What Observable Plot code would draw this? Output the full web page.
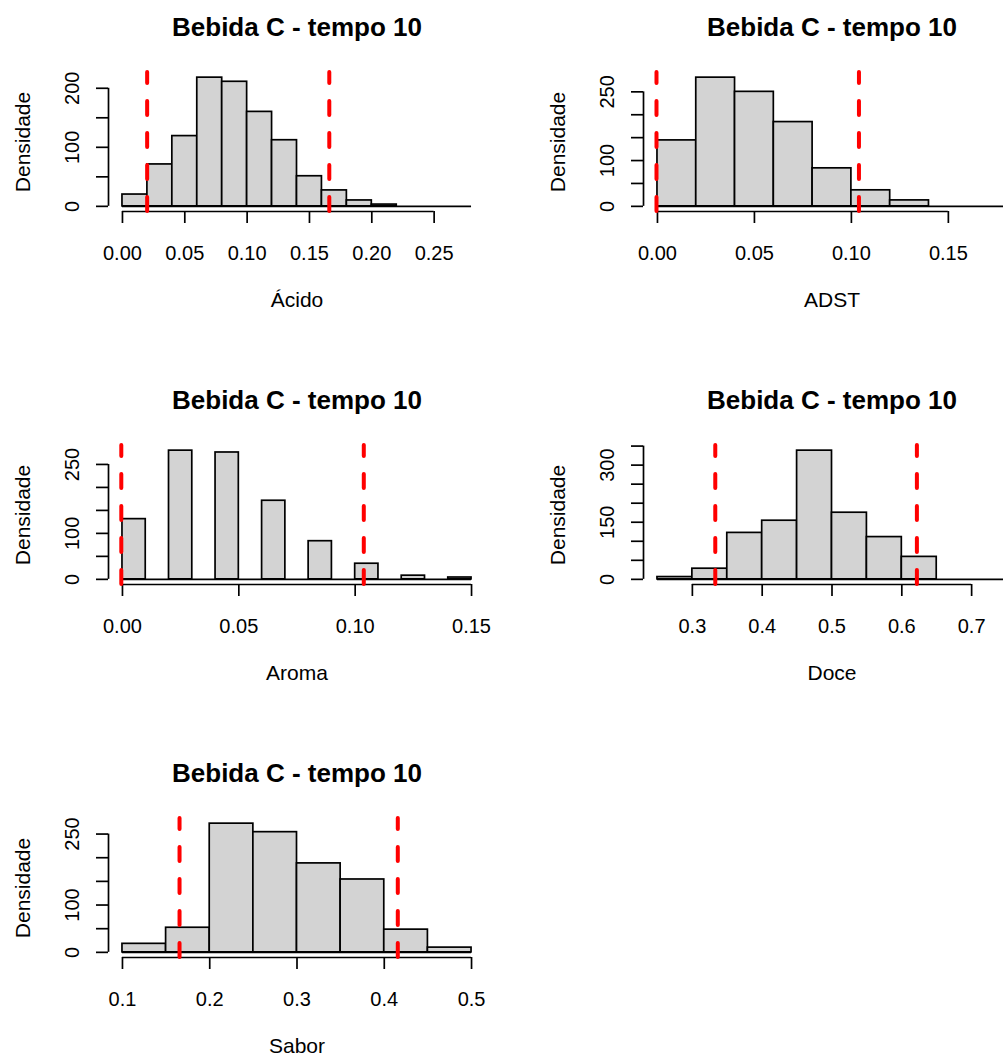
<!DOCTYPE html>
<html><head><meta charset="utf-8">
<script src="https://cdn.jsdelivr.net/npm/d3@7"></script>
<script src="https://cdn.jsdelivr.net/npm/@observablehq/plot@0.6"></script>
<style>
html,body{margin:0;padding:0;background:#fff;width:1003px;height:1061px;overflow:hidden;}
#root{position:relative;width:1003px;height:1061px;overflow:hidden;}
.panel{position:absolute;width:535px;height:373px;}
</style></head><body><div id="root"></div>
<script>
const title = "Bebida C - tempo 10";
const yLabel = "Densidade";
const varNames = ["Ácido", "ADST", "Aroma", "Doce", "Sabor"];

// bin edges
const acidoBreaks = [0, 0.02, 0.04, 0.06, 0.08, 0.10, 0.12, 0.14, 0.16, 0.18, 0.20, 0.22, 0.24, 0.26, 0.28];
const adstBreaks  = [0, 0.02, 0.04, 0.06, 0.08, 0.10, 0.12, 0.14, 0.16, 0.18];
const aromaBreaks = [0, 0.01, 0.02, 0.03, 0.04, 0.05, 0.06, 0.07, 0.08, 0.09, 0.10, 0.11, 0.12, 0.13, 0.14, 0.15];
const doceBreaks  = [0.25, 0.30, 0.35, 0.40, 0.45, 0.50, 0.55, 0.60, 0.65, 0.70, 0.75];
const saborBreaks = [0.10, 0.15, 0.20, 0.25, 0.30, 0.35, 0.40, 0.45, 0.50];

// densities per bin
const acidoDens = [20, 71, 119, 218, 211, 160, 112, 51, 27, 10, 3, 0, 0, 0];
const adstDens  = [144, 281, 250, 184, 83, 35, 13, 0, 0];
const aromaDens = [131, 0, 280, 0, 276, 0, 171, 0, 83, 0, 34, 0, 8, 0, 4];
const doceDens  = [6, 28, 122, 154, 338, 175, 111, 59, 0, 0];
const saborDens = [18, 52, 272, 254, 188, 154, 48, 10];

// red dashed limits
const acidoCuts = [0.0198, 0.1659];
const adstCuts  = [-0.0005, 0.1039];
const aromaCuts = [-0.0005, 0.1037];
const doceCuts  = [0.3328, 0.6216];
const saborCuts = [0.1654, 0.4155];

// x ticks
const acidoXTicks = [0, 0.05, 0.10, 0.15, 0.20, 0.25];
const adstXTicks  = [0, 0.05, 0.10, 0.15];
const aromaXTicks = [0, 0.05, 0.10, 0.15];
const doceXTicks  = [0.3, 0.4, 0.5, 0.6, 0.7];
const saborXTicks = [0.1, 0.2, 0.3, 0.4, 0.5];

// y ticks and shown labels
const acidoYTicks = [0, 50, 100, 150, 200];
const adstYTicks  = [0, 50, 100, 150, 200, 250];
const aromaYTicks = [0, 50, 100, 150, 200, 250];
const doceYTicks  = [0, 50, 100, 150, 200, 250, 300, 350];
const saborYTicks = [0, 50, 100, 150, 200, 250];
const acidoYLabels = [0, 100, 200];
const adstYLabels  = [0, 100, 250];
const aromaYLabels = [0, 100, 250];
const doceYLabels  = [0, 150, 300];
const saborYLabels = [0, 100, 250];

const panels = [
  {name: varNames[0], breaks: acidoBreaks, dens: acidoDens, cuts: acidoCuts, xt: acidoXTicks, yt: acidoYTicks, yl: acidoYLabels, fmt: ".2f"},
  {name: varNames[1], breaks: adstBreaks, dens: adstDens, cuts: adstCuts, xt: adstXTicks, yt: adstYTicks, yl: adstYLabels, fmt: ".2f"},
  {name: varNames[2], breaks: aromaBreaks, dens: aromaDens, cuts: aromaCuts, xt: aromaXTicks, yt: aromaYTicks, yl: aromaYLabels, fmt: ".2f"},
  {name: varNames[3], breaks: doceBreaks, dens: doceDens, cuts: doceCuts, xt: doceXTicks, yt: doceYTicks, yl: doceYLabels, fmt: ".1f"},
  {name: varNames[4], breaks: saborBreaks, dens: saborDens, cuts: saborCuts, xt: saborXTicks, yt: saborYTicks, yl: saborYLabels, fmt: ".1f"}
];

const FONT = "'Liberation Sans', Arial, sans-serif";
const root = document.getElementById("root");

panels.forEach((p, k) => {
  const bins = p.dens.map((d, i) => ({x1: p.breaks[i], x2: p.breaks[i + 1], y: d}));
  const xMin = p.breaks[0], xMax = p.breaks[p.breaks.length - 1], xr = xMax - xMin;
  const yMax = d3.max(p.dens);
  const xDom = [xMin - 0.04 * xr, xMax + 0.04 * xr];
  const yDom = [-0.04 * yMax, 1.04 * yMax];
  const fmt = d3.format(p.fmt);
  const chart = Plot.plot({
    width: 535, height: 373,
    marginLeft: 108, marginRight: 50, marginTop: 72, marginBottom: 162,
    style: {fontFamily: FONT, fontSize: "20px", background: "white", overflow: "visible", color: "black"},
    x: {domain: xDom, axis: null},
    y: {domain: yDom, axis: null},
    marks: [
      Plot.rectY(bins.filter(b => b.y > 0), {x1: "x1", x2: "x2", y1: 0, y2: "y", fill: "#d3d3d3", stroke: "black", strokeWidth: 1.7}),
      Plot.ruleY([0], {x1: xMin, x2: xMax, stroke: "black", strokeWidth: 1.7}),
      // axes
      Plot.ruleY([yDom[0]], {x1: p.xt[0], x2: p.xt[p.xt.length - 1], stroke: "black", strokeWidth: 1.7}),
      Plot.axisX(p.xt, {anchor: "bottom", tickSize: 12, tickPadding: 22, strokeWidth: 1.7, fontSize: 20, tickFormat: fmt, label: null}),
      Plot.ruleX([xDom[0]], {y1: 0, y2: p.yt[p.yt.length - 1], stroke: "black", strokeWidth: 1.7}),
      Plot.axisY(p.yt, {anchor: "left", tickSize: 12, strokeWidth: 1.7, tickFormat: () => "", label: null}),
      Plot.text(p.yl, {frameAnchor: "left", y: d => d, text: d => String(d), rotate: -90, dx: -36, fontSize: 20, textAnchor: "middle", lineAnchor: "middle", fill: "black"}),
      // red dashed lines
      Plot.ruleX(p.cuts, {x: d => d, y1: yDom[0], y2: yDom[1], stroke: "#ff0000", strokeWidth: 4, strokeDasharray: "14,18", strokeLinecap: "round"}),
      // labels
      Plot.text([yLabel], {frameAnchor: "left", dx: -85, rotate: -90, fontSize: 21, textAnchor: "middle", lineAnchor: "middle", fill: "black"}),
      Plot.text([p.name], {frameAnchor: "bottom", dy: 89, fontSize: 21, textAnchor: "middle", lineAnchor: "middle", fill: "black"}),
      Plot.text([title], {frameAnchor: "top", dy: -45, fontSize: 26, fontWeight: "bold", textAnchor: "middle", lineAnchor: "middle", fill: "black"})
    ]
  });
  const div = document.createElement("div");
  div.className = "panel";
  div.style.left = (k % 2) * 535 + "px";
  div.style.top = Math.floor(k / 2) * 373 + "px";
  div.appendChild(chart);
  root.appendChild(div);
});
</script></body></html>
